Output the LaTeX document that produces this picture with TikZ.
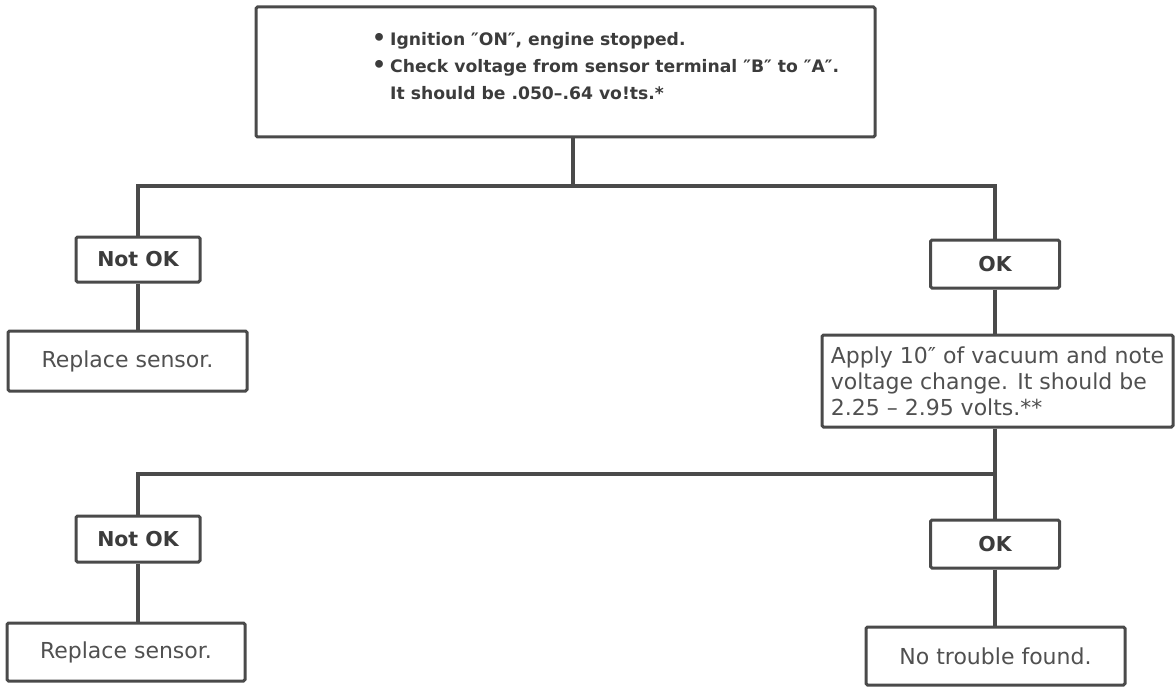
\documentclass[tikz,border=0pt]{standalone}
\usepackage{fontspec}
\setmainfont{DejaVu Sans}
\definecolor{linec}{HTML}{4A4A4A}
\definecolor{textc}{HTML}{505050}
\definecolor{boldc}{HTML}{3C3C3C}
\newcommand{\bul}{\makebox[18pt][l]{\fontsize{22}{22}\selectfont •}}
\begin{document}
\begin{tikzpicture}[x=1pt,y=-1pt,
  box/.style={draw=linec, line width=3pt, fill=white, inner sep=0pt, text=textc, rounded corners=1.5pt},
  conn/.style={draw=linec, line width=4pt},
  toptxt/.style={anchor=base west, inner sep=0pt, text=boldc, font=\bfseries\fontsize{17.2}{26}\selectfont},
  ans/.style={box, text=boldc, font=\bfseries\fontsize{20.5}{24}\selectfont},
  act/.style={box, font=\fontsize{22}{26}\selectfont}
]
\useasboundingbox[fill=white] (0,0) rectangle (1175,687);

% top box
\node[box, minimum width=619, minimum height=130] (top) at (565.5,72) {};
\node[toptxt] (t1) at (372,46) {\bul Ignition ″ON″, engine stopped.};
\node[toptxt] (t2) at (372,73) {\bul Check voltage from sensor terminal ″B″ to ″A″.};
\node[toptxt] (t3) at (390,100) {It should be .050–.64 vo!ts.*};

% first level
\node[ans, minimum width=124, minimum height=45] (nok1) at (138,259.5) {Not OK};
\node[ans, minimum width=129, minimum height=48] (ok1) at (995,264) {OK};
\node[act, minimum width=239, minimum height=60] (rep1) at (127.5,361) {Replace sensor.};
\node[act, minimum width=351, minimum height=92, align=left] (apply) at (997.5,381)
  {Apply 10″ of vacuum and note\\voltage change. It should be\\2.25 – 2.95 volts.**};

% second level
\node[ans, minimum width=124, minimum height=46] (nok2) at (138,539) {Not OK};
\node[ans, minimum width=129, minimum height=48] (ok2) at (995,544) {OK};
\node[act, minimum width=238, minimum height=58] (rep2) at (126,652) {Replace sensor.};
\node[act, minimum width=259, minimum height=58] (ntf) at (995.5,656) {No trouble found.};

% junctions
\coordinate (j1) at (573,186);
\coordinate (j2) at (995,474);

% connectors
\draw[conn] (top.south -| j1) -- (j1);
\draw[conn] (nok1.north) |- (j1) -| (ok1.north);
\draw[conn] (nok1.south) -- (nok1.south |- rep1.north);
\draw[conn] (ok1.south) -- (ok1.south |- apply.north);
\draw[conn] (apply.south -| ok2.north) -- (ok2.north);
\draw[conn] (nok2.north) |- (j2);
\draw[conn] (nok2.south) -- (nok2.south |- rep2.north);
\draw[conn] (ok2.south) -- (ok2.south |- ntf.north);
\end{tikzpicture}
\end{document}
